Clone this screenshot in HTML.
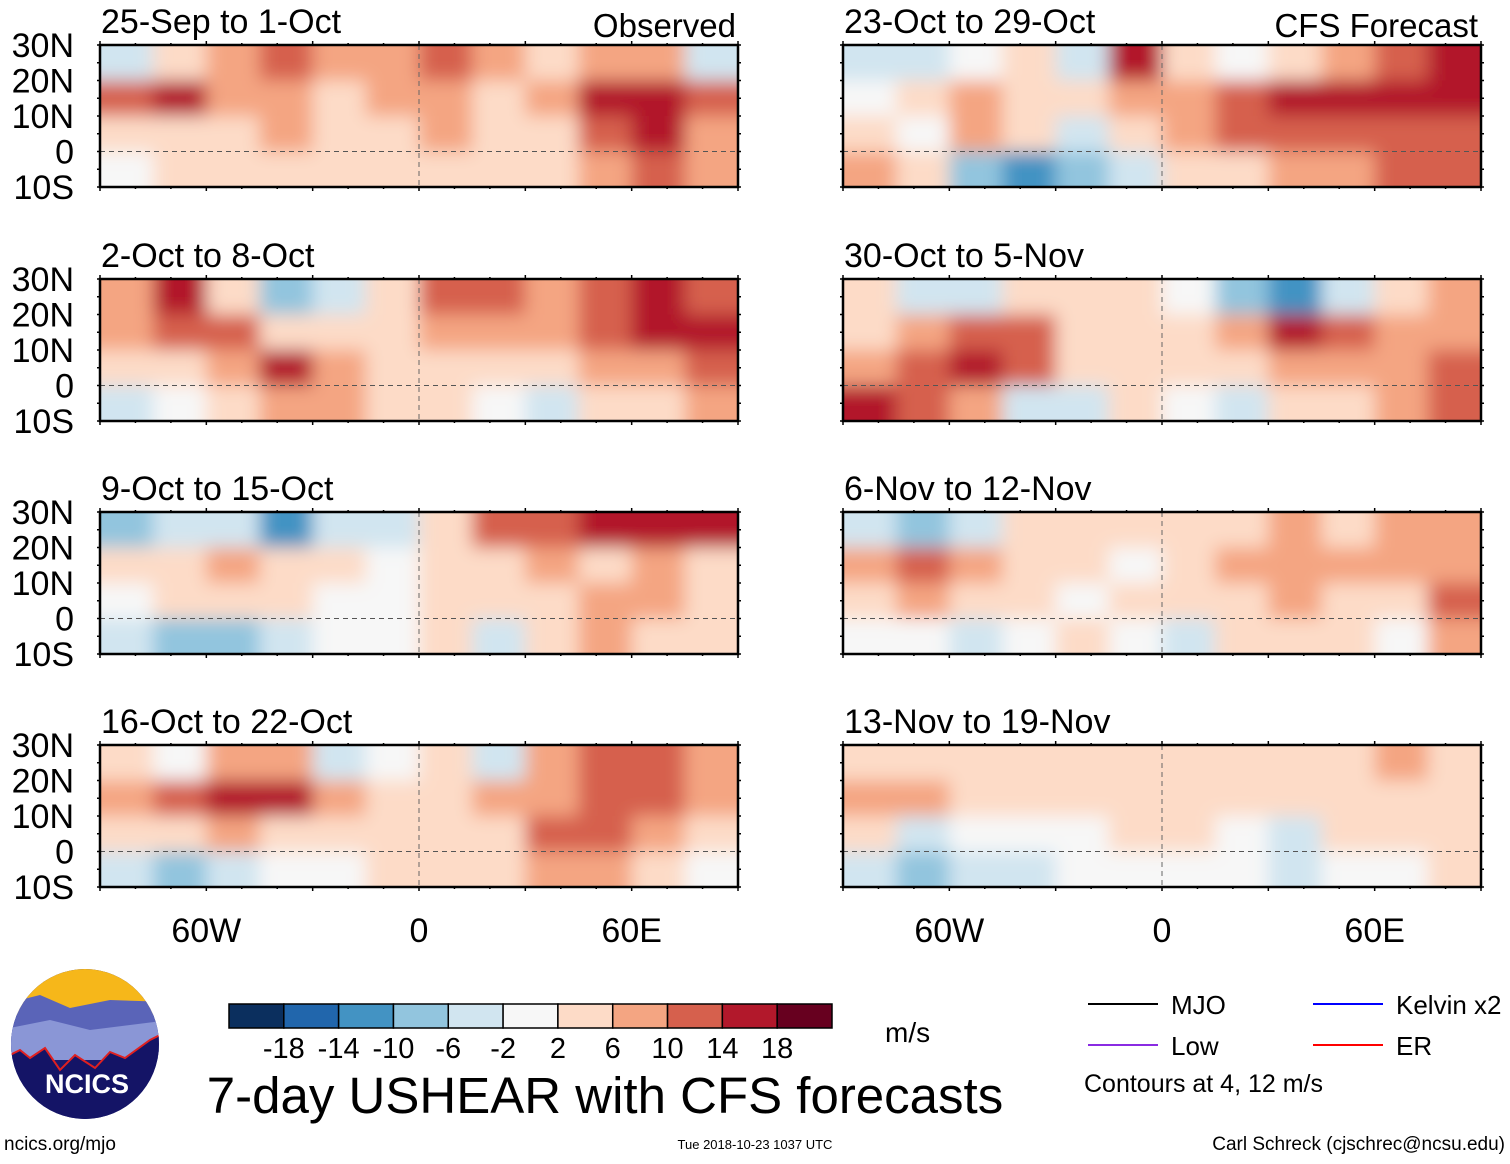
<!DOCTYPE html>
<html><head><meta charset="utf-8"><style>
body{margin:0;background:#fff;}
svg text{font-family:"Liberation Sans",sans-serif;fill:#000;}
</style></head><body>
<svg id="main" width="1510" height="1159" viewBox="0 0 1510 1159" xmlns="http://www.w3.org/2000/svg">
<defs>
<filter id="blur" x="-20%" y="-20%" width="140%" height="140%"><feGaussianBlur stdDeviation="9"/></filter>
</defs>
</svg>
<script>
// Longitude columns (centres, deg) and latitude rows (centres, deg)
const lons = [-82.5,-67.5,-52.5,-37.5,-22.5,-7.5,7.5,22.5,37.5,52.5,67.5,82.5];
const lats = [25,15,5,-5];
const titles = ["25-Sep to 1-Oct","2-Oct to 8-Oct","9-Oct to 15-Oct","16-Oct to 22-Oct","23-Oct to 29-Oct","30-Oct to 5-Nov","6-Nov to 12-Nov","13-Nov to 19-Nov"];
const p1 = [[-4,4,6,10,8,6,10,8,4,6,8,-4],[12,14,6,6,4,8,8,4,6,14,14,10],[2,4,2,6,4,2,6,4,4,10,14,8],[-2,2,4,4,2,4,4,2,4,8,12,6]];
const p2 = [[6,14,4,-8,-6,2,10,12,8,10,14,12],[8,12,10,4,2,4,6,8,6,10,16,14],[2,4,8,14,6,2,2,4,4,6,8,10],[-4,-2,2,8,6,4,2,-2,-6,2,4,6]];
const p3 = [[-10,-6,-4,-12,-6,-4,4,10,12,14,16,16],[2,4,8,4,2,-2,2,4,6,4,6,4],[-2,2,4,2,-2,0,2,2,4,8,6,4],[-6,-10,-8,-4,-2,-2,2,-4,2,6,4,2]];
const p4 = [[2,-2,6,8,-6,-2,2,-4,6,10,12,8],[6,12,16,14,8,4,4,6,8,12,10,6],[2,4,6,4,2,2,4,4,10,10,6,4],[-4,-8,-6,-2,-2,2,2,4,8,6,2,0]];
const p5 = [[-4,-6,-2,2,-6,14,4,-2,4,8,12,14],[-2,2,6,4,2,6,8,12,14,14,16,16],[4,-2,8,2,-4,2,6,10,10,12,10,12],[6,2,-8,-14,-10,-4,2,4,6,8,10,12]];
const p6 = [[4,-6,-4,2,2,4,-2,-10,-12,-6,4,6],[4,6,10,12,4,2,2,8,14,10,8,6],[6,10,14,10,4,2,2,4,6,8,6,10],[14,10,6,-4,-6,4,-2,-4,2,4,6,12]];
const p7 = [[-4,-10,-4,2,4,2,2,4,6,4,6,6],[6,10,8,4,2,-2,4,6,8,6,6,6],[4,6,4,2,-2,2,4,4,6,4,4,10],[-2,-2,-4,-2,2,-2,-4,2,4,2,-2,8]];
const p8 = [[2,2,4,2,2,2,2,2,4,4,6,4],[6,6,4,2,2,2,2,4,4,4,4,2],[2,-4,-2,-2,0,2,2,-2,-4,2,2,2],[-6,-8,-6,-4,-2,0,-2,-2,-6,-2,0,2]];
const panels = [p1,p2,p3,p4,p5,p6,p7,p8];
const levels = [-18,-14,-10,-6,-2,2,6,10,14,18];
const levelLabels = ["-18","-14","-10","-6","-2","2","6","10","14","18"];
const colors = ["#0b2f5e","#2166ac","#4393c3","#92c5de","#d1e5f0","#f7f7f7","#fddbc7","#f4a582","#d6604d","#b2182b","#67001f"];
const latTicks = ["30N","20N","10N","0","10S"];
const lonTicks = [[-60,"60W"],[0,"0"],[60,"60E"]];

const NS="http://www.w3.org/2000/svg";
const svg=document.getElementById('main');
function mk(t,a,p){const e=document.createElementNS(NS,t);for(const k in a)e.setAttribute(k,a[k]);(p||svg).appendChild(e);return e;}
function colorOf(v){let i=0;while(i<levels.length&&v>=levels[i])i++;return colors[i];}

const PW=638, PH=142;
const lefts=[100,843], tops=[45,279,512,745];
function xs(lon,L){return L+(lon+90)/180*PW;}
function ys(lat,T){return T+(30-lat)/40*PH;}

panels.forEach((data,pi)=>{
  const L=lefts[pi<4?0:1], T=tops[pi%4];
  const g=mk('g',{});
  
  
  const cp=mk('clipPath',{id:'cp'+pi},g);
  mk('rect',{x:L,y:T,width:PW,height:PH},cp);
  const cg=mk('g',{'clip-path':'url(#cp'+pi+')'},g);
  const bg=mk('g',{filter:'url(#blur)'},cg);
  const cw=PW/12, ch=PH/4;
  data.forEach((row,ri)=>row.forEach((v,ci)=>{
    const x=xs(lons[ci],L)-cw/2, y=ys(lats[ri],T)-ch/2;
    const ex=(ci===0?-30:0), ew=(ci===0||ci===11?30:0), ey=(ri===0?-30:0), eh=(ri===0||ri===3?30:0);
    const r=mk('rect',{x:x+ex,y:y+ey,width:cw+1+ew,height:ch+1+eh,fill:colorOf(v)},bg);
    
    
  }));
  mk('line',{x1:L,x2:L+PW,y1:ys(0,T),y2:ys(0,T),stroke:'#555','stroke-width':1,'stroke-dasharray':'5,4'},g);
  mk('line',{x1:xs(0,L),x2:xs(0,L),y1:T,y2:T+PH,stroke:'#666','stroke-width':1,'stroke-dasharray':'5,4'},g);
  const fr=mk('rect',{x:L,y:T,width:PW,height:PH,fill:'none',stroke:'#000','stroke-width':2.5},g);
  
  
  for(let lo=-90;lo<=90;lo+=10){const x=xs(lo,L);const big=lo%30===0;
    mk('line',{x1:x,x2:x,y1:T,y2:T-(big?4:2),stroke:'#000','stroke-width':1.5},g);
    mk('line',{x1:x,x2:x,y1:T+PH,y2:T+PH+(big?4:2),stroke:'#000','stroke-width':1.5},g);}
  for(let la=-10;la<=30;la+=5){const y=ys(la,T);
    mk('line',{x1:L,x2:L-3,y1:y,y2:y,stroke:'#000','stroke-width':1.5},g);
    mk('line',{x1:L+PW,x2:L+PW+3,y1:y,y2:y,stroke:'#000','stroke-width':1.5},g);}
  const tt=mk('text',{x:L+1,y:T-12,'font-size':34},g);tt.textContent=titles[pi];
  
  
  if(pi<4){
    latTicks.forEach((lb,i)=>{const t=mk('text',{x:74,y:ys(30-10*i,T)+12,'font-size':34,'text-anchor':'end'},g);t.textContent=lb;
      
      });
  }
  if(pi%4===3){
    lonTicks.forEach(([lo,lb])=>{const t=mk('text',{x:xs(lo,L),y:942,'font-size':34,'text-anchor':'middle'},g);t.textContent=lb;
      
      });
  }
});
function txt(x,y,s,content,name,anchor){const t=mk('text',{x:x,y:y,'font-size':s,'text-anchor':anchor||'start'});t.textContent=content;
  
  return t;}
txt(736,37,33,"Observed","observed-label","end");
txt(1478,37,33,"CFS Forecast","forecast-label","end");

const cb=mk('g',{});


const cbx=229, cbw=603/11;
colors.forEach((c,i)=>{const r=mk('rect',{x:cbx+i*cbw,y:1004,width:cbw,height:24,fill:c,stroke:'#000','stroke-width':1.5},cb);
  
  });
levelLabels.forEach((lb,i)=>{const t=mk('text',{x:cbx+(i+1)*cbw,y:1058,'font-size':29,'text-anchor':'middle'},cb);t.textContent=lb;
  
  });
txt(885,1042,28,"m/s","units-label");
txt(605,1113,51,"7-day USHEAR with CFS forecasts","main-title","middle");
txt(4,1150,19,"ncics.org/mjo","website-label");
txt(755,1149,13,"Tue 2018-10-23 1037 UTC","timestamp","middle");
txt(1505,1150,19,"Carl Schreck (cjschrec@ncsu.edu)","author-label","end");

const lg=[["#000","MJO",1088,1004],["#8a2be2","Low",1088,1045],["#0000ff","Kelvin x2",1313,1004],["#ff0000","ER",1313,1045]];
lg.forEach(([c,l,x,y])=>{const ln=mk('line',{x1:x,x2:x+70,y1:y,y2:y,stroke:c,'stroke-width':2});
  
  
  txt(x+83,y+10,26,l,'legend-entry');});
txt(1084,1092,25,"Contours at 4, 12 m/s","contour-note");

const lo=mk('g',{});


const lcp=mk('clipPath',{id:'lclip'},lo);mk('ellipse',{cx:85,cy:1044,rx:74,ry:75},lcp);
const lg2=mk('g',{'clip-path':'url(#lclip)'},lo);
mk('rect',{x:0,y:965,width:170,height:160,fill:'#1a1a6e'},lg2);
mk('rect',{x:0,y:965,width:170,height:50,fill:'#f6b71a'},lg2);
mk('path',{d:'M0 1005 L40 995 L70 1008 L110 1000 L170 1002 L170 1060 L0 1060Z',fill:'#5a64b8'},lg2);
mk('path',{d:'M0 1030 L50 1020 L90 1030 L170 1020 L170 1060 L0 1060Z',fill:'#8a96d6'},lg2);
mk('path',{d:'M0 1060 L20 1050 L30 1058 L45 1048 L60 1070 L75 1055 L95 1068 L110 1052 L125 1058 L150 1040 L170 1030 L170 1130 L0 1130Z',fill:'#141466',stroke:'#e02020','stroke-width':2},lg2);
const nt=mk('text',{x:87,y:1093,'font-size':27,'font-weight':'bold','text-anchor':'middle'},lo);nt.style.fill='#fff';nt.textContent='NCICS';


</script>
</body></html>
